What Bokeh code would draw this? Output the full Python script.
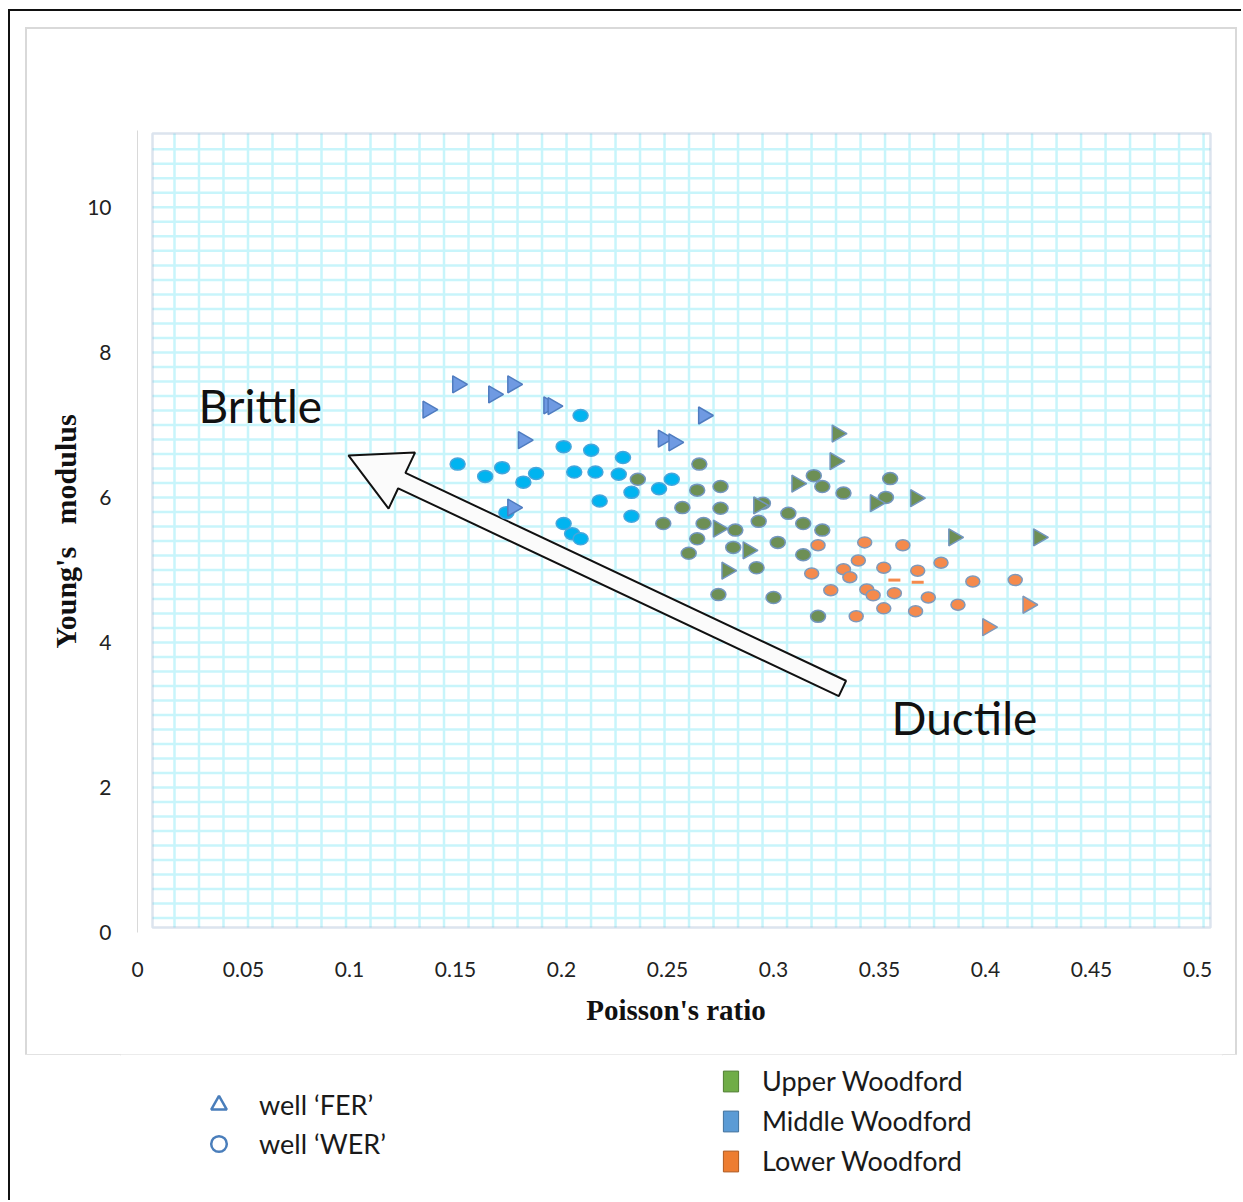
import math
import numpy as np
from bokeh.plotting import figure
from bokeh.layouts import column
from bokeh.models import (Range1d, FixedTicker, BoxAnnotation, Label, Legend,
                          LegendItem, ColumnDataSource)
from bokeh.embed import file_html
from bokeh.resources import INLINE

# ---- data: Poisson's ratio (pr) and Young's modulus (ym) ----
# Upper Woodford
upper_fer_pr = [0.330, 0.329, 0.311, 0.293, 0.274, 0.288, 0.278, 0.348, 0.367, 0.385, 0.425]
upper_fer_ym = [6.88, 6.50, 6.19, 5.89, 5.57, 5.27, 4.99, 5.92, 5.99, 5.45, 5.45]
upper_wer_pr = [0.265, 0.236, 0.264, 0.275, 0.319, 0.323, 0.333, 0.257, 0.275, 0.307,
                0.248, 0.267, 0.293, 0.314, 0.282, 0.323, 0.264, 0.281, 0.302, 0.260,
                0.314, 0.292, 0.274, 0.300, 0.321, 0.355, 0.353, 0.295]
upper_wer_ym = [6.46, 6.25, 6.10, 6.15, 6.30, 6.15, 6.06, 5.86, 5.85, 5.78,
                5.64, 5.64, 5.67, 5.64, 5.55, 5.55, 5.43, 5.31, 5.38, 5.23,
                5.21, 5.03, 4.66, 4.62, 4.36, 6.26, 6.00, 5.92]
# Middle Woodford
middle_fer_pr = [0.151, 0.177, 0.168, 0.137, 0.194, 0.196, 0.182, 0.177, 0.267, 0.248, 0.253]
middle_fer_ym = [7.56, 7.56, 7.42, 7.21, 7.27, 7.26, 6.79, 5.86, 7.13, 6.81, 6.76]
middle_wer_pr = [0.209, 0.201, 0.214, 0.229, 0.151, 0.164, 0.172, 0.182, 0.188, 0.206,
                 0.216, 0.227, 0.233, 0.218, 0.233, 0.201, 0.205, 0.209, 0.174, 0.252, 0.246]
middle_wer_ym = [7.13, 6.70, 6.65, 6.55, 6.46, 6.29, 6.41, 6.21, 6.33, 6.35,
                 6.35, 6.32, 6.07, 5.95, 5.74, 5.64, 5.50, 5.43, 5.79, 6.25, 6.12]
# Lower Woodford
lower_fer_pr = [0.420, 0.401]
lower_fer_ym = [4.52, 4.21]
lower_wer_pr = [0.321, 0.343, 0.361, 0.340, 0.333, 0.336, 0.352, 0.368, 0.379, 0.318,
                0.327, 0.344, 0.347, 0.357, 0.373, 0.387, 0.352, 0.367, 0.339, 0.394, 0.414]
lower_wer_ym = [5.34, 5.38, 5.34, 5.13, 5.01, 4.90, 5.03, 4.99, 5.10, 4.95,
                4.72, 4.73, 4.65, 4.68, 4.62, 4.52, 4.47, 4.43, 4.36, 4.84, 4.86]
lower_wer_dash_pr = [0.357, 0.368]
lower_wer_dash_ym = [4.86, 4.83]

x_ticks = [0, 0.05, 0.1, 0.15, 0.2, 0.25, 0.3, 0.35, 0.4, 0.45, 0.5]
x_tick_labels = ["0", "0.05", "0.1", "0.15", "0.2", "0.25", "0.3", "0.35", "0.4", "0.45", "0.5"]
y_ticks = [0, 2, 4, 6, 8, 10]
y_tick_labels = ["0", "2", "4", "6", "8", "10"]

well_labels = ["well \u2018FER\u2019", "well \u2018WER\u2019"]
formation_labels = ["Upper Woodford", "Middle Woodford", "Lower Woodford"]
formation_colors = ["#70ad47", "#5b9bd5", "#ed7d31"]
formation_edges = ["#507e32", "#41719c", "#ae5a21"]

# ---- layout constants (px) ----
PAGE_X0, PAGE_Y0 = 10, 11            # inside the page frame
CHART_X0, CHART_Y0 = 27, 29          # chart canvas origin on the page
CHART_W, CHART_H = 1208, 1025
LEG_W, LEG_H = 1233, 148
X_END, Y_END = 0.508, 11.06
BORDER_L, BORDER_R, BORDER_T, BORDER_B = 110, 21, 101, 122
FRAME_W = CHART_W - BORDER_L - BORDER_R
FRAME_H = CHART_H - BORDER_T - BORDER_B
KX = FRAME_W / X_END          # px per unit of Poisson's ratio
KY = FRAME_H / Y_END          # px per unit of Young's modulus

# plotting box (grid paper) extents
BOX_L, BOX_R, BOX_B, BOX_T = 0.00708, 0.5061, 0.069, 11.02

TXT_FONT = "Lato"
SERIF = "Liberation Serif"

p = figure(width=CHART_W, height=CHART_H, output_backend="svg", toolbar_location=None,
           x_range=Range1d(0, X_END), y_range=Range1d(0, Y_END),
           min_border_left=BORDER_L, min_border_right=BORDER_R,
           min_border_top=BORDER_T, min_border_bottom=BORDER_B)
p.outline_line_color = None
p.background_fill_color = "white"
p.border_fill_color = "white"
p.xgrid.visible = False
p.ygrid.visible = False
p.margin = (CHART_Y0 - PAGE_Y0, 0, 0, CHART_X0 - PAGE_X0)
p.styles = {"box-shadow": "0 0 0 2px #d9d9d9"}

# axes
p.xaxis.ticker = FixedTicker(ticks=x_ticks)
p.xaxis.major_label_overrides = dict(zip(x_ticks, x_tick_labels))
p.yaxis.ticker = FixedTicker(ticks=y_ticks)
p.yaxis.major_label_overrides = dict(zip(y_ticks, y_tick_labels))
for ax in (p.xaxis[0], p.yaxis[0]):
    ax.major_tick_line_color = None
    ax.minor_tick_line_color = None
    ax.major_label_text_font = TXT_FONT
    ax.major_label_text_font_size = "21px"
    ax.major_label_text_color = "#222222"
    ax.axis_label_text_font = SERIF
    ax.axis_label_text_font_style = "bold"
    ax.axis_label_text_color = "#111111"
p.xaxis.axis_label_text_font_size = "29px"
p.yaxis.axis_label_text_font_size = "30px"
p.xaxis.axis_line_color = None
p.yaxis.axis_line_color = "#d9d9d9"
p.xaxis.major_label_standoff = 23
p.yaxis.major_label_standoff = 20
p.xaxis.axis_label = "Poisson's ratio"
p.yaxis.axis_label = "Young's\u00a0\u00a0\u00a0modulus"
p.xaxis.axis_label_standoff = 14
p.yaxis.axis_label_standoff = 2

# grid paper lines inside the box
grid_x = 0.01745 + 0.011557 * np.arange(43)
grid_y = 0.2 * np.arange(1, 55)
grid_col, grid_w = "#c8f5fb", 2.5
p.segment(x0=grid_x, x1=grid_x, y0=BOX_B, y1=BOX_T, line_color=grid_col, line_width=grid_w)
p.segment(x0=BOX_L, x1=BOX_R, y0=grid_y, y1=grid_y, line_color=grid_col, line_width=grid_w)

# trend arrow (ductile -> brittle), block outline
tail = (0.3325, 3.366)
tip = (0.0995, 6.579)
shaft_half, head_len, head_half = 8.5, 59.0, 31.0
tx, ty = tail[0] * KX, tail[1] * KY
hx, hy = tip[0] * KX, tip[1] * KY
L = math.hypot(hx - tx, hy - ty)
ux, uy = (hx - tx) / L, (hy - ty) / L
nx, ny = -uy, ux
bx, by = hx - ux * head_len, hy - uy * head_len
pts = [(tx + nx * shaft_half, ty + ny * shaft_half),
       (bx + nx * shaft_half, by + ny * shaft_half),
       (bx + nx * head_half, by + ny * head_half),
       (hx, hy),
       (bx - nx * head_half, by - ny * head_half),
       (bx - nx * shaft_half, by - ny * shaft_half),
       (tx - nx * shaft_half, ty - ny * shaft_half)]
p.patch([q[0] / KX for q in pts], [q[1] / KY for q in pts],
        fill_color="#fbfbfb", line_color="#111111", line_width=2)

# marker colours
GREEN, GREEN_EDGE = "#6d8f55", "#7396bf"
CYAN, CYAN_EDGE = "#00b4f0", "#46a6dc"
ORANGE, ORANGE_EDGE = "#f58a4c", "#7f99bb"
BLUE_TRI, BLUE_TRI_EDGE = "#6f9ae2", "#4f7cc0"

ell = dict(width=15, height=12, width_units="screen", height_units="screen", line_width=1.5)
p.ellipse(upper_wer_pr, upper_wer_ym, fill_color=GREEN, line_color=GREEN_EDGE, **ell)
p.ellipse(middle_wer_pr, middle_wer_ym, fill_color=CYAN, line_color=CYAN_EDGE, **ell)
p.ellipse(lower_wer_pr, lower_wer_ym, fill_color=ORANGE, line_color=ORANGE_EDGE,
          **{**ell, "width": 14, "height": 11})
p.scatter(lower_wer_dash_pr, lower_wer_dash_ym, marker="dash", size=12,
          line_color=ORANGE, line_width=3)

tri = dict(marker="triangle", size=17, angle=-math.pi / 2, line_width=1.5)
p.scatter(middle_fer_pr, middle_fer_ym, fill_color=BLUE_TRI, line_color=BLUE_TRI_EDGE, **tri)
p.scatter(upper_fer_pr, upper_fer_ym, fill_color=GREEN, line_color=GREEN_EDGE, **tri)
p.scatter(lower_fer_pr, lower_fer_ym, fill_color=ORANGE, line_color=ORANGE_EDGE, **tri)

# grid paper frame
p.add_layout(BoxAnnotation(left=BOX_L, right=BOX_R, bottom=BOX_B, top=BOX_T,
                           fill_color=None, line_color="#8aa6c8", line_width=2.5))

# trend words
p.add_layout(Label(x=0.0288, y=6.89, text="Brittle", text_font=TXT_FONT,
                   text_font_size="46px", text_color="#111111"))
p.add_layout(Label(x=0.3557, y=2.58, text="Ductile", text_font=TXT_FONT,
                   text_font_size="46px", text_color="#111111"))

# ---- legend strip under the chart (pixel space) ----
LEG_BORDER_L, LEG_BORDER_R = BORDER_L, BORDER_R
leg = figure(width=LEG_W, height=LEG_H, output_backend="svg", toolbar_location=None,
             x_range=Range1d(0, LEG_W), y_range=Range1d(LEG_H, 0),
             x_axis_type=None, y_axis_type=None, min_border=0,
             min_border_left=LEG_BORDER_L, min_border_right=LEG_BORDER_R)
leg.outline_line_color = None
leg.grid.visible = False

WELL_EDGE = "#4a7ebb"
# proxy renderers carry the legend swatches only (a single undrawn NaN row)
proxy = ColumnDataSource(data=dict(x=[float("nan")], y=[float("nan")]))
r_fer = leg.scatter("x", "y", source=proxy, marker="triangle", fill_color=None,
                    line_color=WELL_EDGE, line_width=2.5)
r_wer = leg.scatter("x", "y", source=proxy, marker="circle", fill_color=None,
                    line_color=WELL_EDGE, line_width=2.5)
r_forms = [leg.quad(left="x", right="x", top="y", bottom="y", source=proxy,
                    fill_color=c, line_color=e)
           for c, e in zip(formation_colors, formation_edges)]

leg_style = dict(background_fill_alpha=0, border_line_color=None, padding=0, margin=0,
                 label_text_font=TXT_FONT, label_text_font_size="27px",
                 label_text_color="#1a1a1a")
leg_wells = Legend(items=[LegendItem(label=lab, renderers=[r])
                          for lab, r in zip(well_labels, [r_fer, r_wer])],
                   location=(76, 39), glyph_width=45, glyph_height=39, spacing=0,
                   label_height=39, label_standoff=18, **leg_style)
leg_form = Legend(items=[LegendItem(label=lab, renderers=[r])
                         for lab, r in zip(formation_labels, r_forms)],
                  location=(601, 25), glyph_width=19, glyph_height=26, spacing=7,
                  label_height=32, label_standoff=22, **leg_style)
leg.add_layout(leg_wells)
leg.add_layout(leg_form)

# page frame: dark rule along the left and top edges
layout = column(p, leg, spacing=0)
layout.margin = (PAGE_Y0, 0, 0, PAGE_X0)
layout.styles = {"box-shadow": "-2px -2px 0 0 #111111", "background": "white"}

open("out.html", "w").write(file_html(layout, INLINE))
